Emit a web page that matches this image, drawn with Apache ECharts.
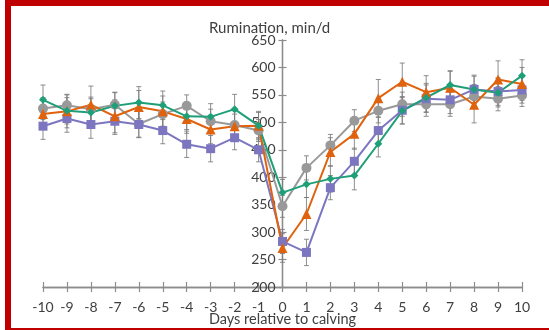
<!DOCTYPE html>
<html>
<head>
<meta charset="utf-8">
<script src="https://cdn.jsdelivr.net/npm/echarts@6/dist/echarts.min.js"></script>
<style>
  html, body { margin: 0; padding: 0; background: #fff; }
  #wrap { position: relative; width: 549px; height: 330px; overflow: hidden; }
  #chart { position: absolute; left: 0; top: 0; width: 549px; height: 330px; }
  #frame {
    position: absolute; left: 5px; top: 0; width: 544px; height: 322px;
    border-left: 6px solid #c00000; border-top: 6px solid #c00000; border-bottom: 2px solid #c00000;
    pointer-events: none;
  }
</style>
</head>
<body>
<div id="wrap">
  <div id="chart"></div>
  <div id="frame"></div>
</div>
<script>
const days = [-10, -9, -8, -7, -6, -5, -4, -3, -2, -1, 0, 1, 2, 3, 4, 5, 6, 7, 8, 9, 10]

// rumination, min/d
const gray   = [525, 531, 524, 532, 497, 515, 530, 502, 495, 485, 347, 417, 458, 503, 521, 533, 533, 533, 547, 543, 549]
const purple = [493, 507, 496, 502, 496, 485, 460, 452, 472, 450, 283, 263, 381, 429, 485, 522, 543, 541, 560, 556, 559]
const orange = [515, 520, 532, 511, 528, 520, 506, 487, 493, 494, 271, 333, 446, 479, 544, 574, 555, 563, 532, 578, 570]
const green  = [541, 521, 518, 530, 536, 531, 511, 510, 524, 494, 372, 387, 397, 403, 461, 521, 545, 568, 560, 554, 585]

// standard errors
const grayErr   = [20, 20, 22, 22, 24, 22, 20, 22, 20, 20, 20, 22, 20, 20, 22, 22, 22, 22, 22, 22, 20]
const purpleErr = [24, 25, 25, 24, 24, 24, 24, 24, 22, 22, 22, 24, 22, 24, 24, 25, 25, 25, 24, 25, 24]
const orangeErr = [28, 30, 34, 30, 30, 28, 26, 26, 28, 26, 26, 30, 26, 28, 34, 34, 30, 30, 33, 34, 30]
const greenErr  = [27, 24, 25, 25, 29, 26, 24, 24, 27, 24, 24, 24, 24, 26, 24, 24, 26, 26, 26, 26, 29]

const yTicks = { min: 200, max: 650, step: 50 }

const chart = echarts.init(document.getElementById('chart'))

const toLine = (vals) => days.map((d, i) => [d, vals[i]])
const toErr = (vals, errs) => days.map((d, i) => [d, vals[i] - errs[i], vals[i] + errs[i]])

const errBars = (name, vals, errs) => ({
  name: name + ' SE',
  type: 'custom',
  z: 1,
  silent: true,
  data: toErr(vals, errs),
  renderItem: (params, api) => {
    const top = api.coord([api.value(0), api.value(2)])
    const bot = api.coord([api.value(0), api.value(1)])
    const cap = 2.5
    const style = { stroke: '#7a7a7a', lineWidth: 1, opacity: 0.85 }
    return {
      type: 'group',
      children: [
        { type: 'line', shape: { x1: top[0], y1: top[1], x2: bot[0], y2: bot[1] }, style },
        { type: 'line', shape: { x1: top[0] - cap, y1: top[1], x2: top[0] + cap, y2: top[1] }, style },
        { type: 'line', shape: { x1: bot[0] - cap, y1: bot[1], x2: bot[0] + cap, y2: bot[1] }, style },
      ],
    }
  },
})

const lineSeries = (name, vals, color, symbol, size) => ({
  name,
  type: 'line',
  z: 3,
  data: toLine(vals),
  symbol,
  symbolSize: size,
  showSymbol: true,
  lineStyle: { color, width: 2 },
  itemStyle: { color },
  animation: false,
})

const font = 'Lato, "Open Sans", sans-serif'
const axisColor = '#8c8c8c'

const yAxisBase = (inside, yOffset) => ({
  type: 'value',
  position: 'left',
  offset: yOffset,
  min: yTicks.min,
  max: yTicks.max,
  interval: yTicks.step,
  splitLine: { show: false },
  axisLine: { show: true, onZero: false, lineStyle: { color: axisColor, width: 1.3 } },
  axisTick: { show: true, inside, length: 4, lineStyle: { color: axisColor, width: 1.2 } },
  axisLabel: inside
    ? { show: false }
    : { margin: 7, fontFamily: font, fontSize: 14, color: '#404040' },
})

const buildOption = (yOffset) => ({
  animation: false,
  title: {
    text: 'Rumination, min/d',
    left: 204,
    top: 16,
    textStyle: { fontFamily: font, fontSize: 15, fontWeight: 'normal', color: '#404040' },
  },
  grid: { left: 43, right: 27, top: 40, bottom: 43, containLabel: false, outerBoundsMode: 'none' },
  xAxis: [
    {
      type: 'value',
      min: -10,
      max: 10,
      interval: 1,
      name: 'Days relative to calving',
      nameLocation: 'middle',
      nameGap: 25,
      nameMoveOverlap: false,
      nameTextStyle: { fontFamily: font, fontSize: 14.5, color: '#404040' },
      splitLine: { show: false },
      axisLine: { onZero: false, lineStyle: { color: axisColor, width: 1.3 } },
      axisTick: { length: 5, lineStyle: { color: axisColor, width: 1.2 } },
      axisLabel: { margin: 13, fontFamily: font, fontSize: 14, color: '#404040' },
    },
    {
      type: 'value',
      position: 'bottom',
      min: -10,
      max: 10,
      interval: 1,
      splitLine: { show: false },
      axisLine: { onZero: false, lineStyle: { color: axisColor, width: 1.3 } },
      axisTick: { inside: true, length: 5, lineStyle: { color: axisColor, width: 1.2 } },
      axisLabel: { show: false },
    },
  ],
  yAxis: [yAxisBase(false, yOffset), yAxisBase(true, yOffset)],
  series: [
    errBars('gray', gray, grayErr),
    errBars('purple', purple, purpleErr),
    errBars('orange', orange, orangeErr),
    errBars('green', green, greenErr),
    lineSeries('Gray', gray, '#999999', 'circle', 10),
    lineSeries('Purple', purple, '#7c76c0', 'rect', 9),
    lineSeries('Orange', orange, '#e0620d', 'triangle', 10),
    lineSeries('Green', green, '#1f9f78', 'diamond', 8),
  ],
})

// first pass to measure, then move the y axis so it crosses the x axis at day 0
chart.setOption(buildOption(0))
const xLeft = chart.convertToPixel({ xAxisIndex: 0 }, days[0])
const xZero = chart.convertToPixel({ xAxisIndex: 0 }, 0)
chart.setOption(buildOption(-(xZero - xLeft)))
</script>
</body>
</html>
